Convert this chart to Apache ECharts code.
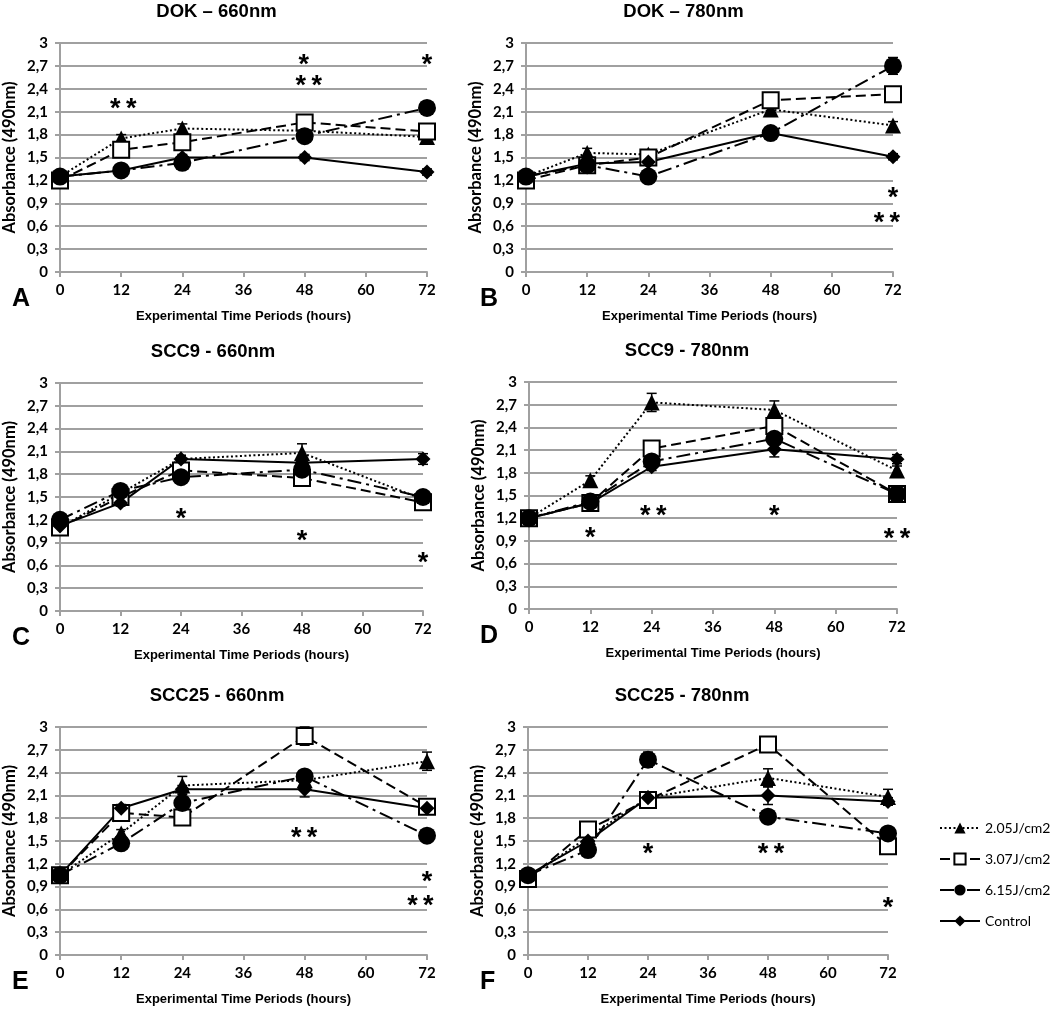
<!DOCTYPE html>
<html>
<head>
<meta charset="utf-8">
<script src="https://cdn.jsdelivr.net/npm/echarts@6/dist/echarts.min.js"></script>
<style>
  html, body { margin: 0; padding: 0; background: #fff; }
  #chart { width: 1050px; height: 1009px; }
</style>
</head>
<body>
<div id="chart"></div>
<script>
// time points (hours) and dose groups
const hours = [0, 12, 24, 48, 72];
const doses = ['2.05J/cm2', '3.07J/cm2', '6.15J/cm2', 'Control'];
const yTickLabels = ['0', '0,3', '0,6', '0,9', '1,2', '1,5', '1,8', '2,1', '2,4', '2,7', '3'];
const panelTitles = ['DOK – 660nm', 'DOK – 780nm', 'SCC9 - 660nm', 'SCC9 - 780nm', 'SCC25 - 660nm', 'SCC25 - 780nm'];
const panelLetters = ['A', 'B', 'C', 'D', 'E', 'F'];

// absorbance, one row per dose (2.05, 3.07, 6.15, control)
const dok660 = [
  [1.25, 1.75, 1.88, 1.85, 1.77],
  [1.20, 1.60, 1.70, 1.96, 1.84],
  [1.25, 1.33, 1.43, 1.78, 2.15],
  [1.25, 1.33, 1.50, 1.50, 1.31]
];
const dok780 = [
  [1.25, 1.56, 1.54, 2.13, 1.92],
  [1.20, 1.40, 1.50, 2.25, 2.33],
  [1.25, 1.40, 1.25, 1.82, 2.70],
  [1.25, 1.42, 1.44, 1.82, 1.51]
];
const scc9_660 = [
  [1.10, 1.55, 2.00, 2.08, 1.47],
  [1.10, 1.50, 1.85, 1.75, 1.43],
  [1.20, 1.58, 1.76, 1.86, 1.50],
  [1.12, 1.42, 2.00, 1.95, 2.00]
];
const scc9_780 = [
  [1.20, 1.70, 2.73, 2.63, 1.83],
  [1.20, 1.40, 2.12, 2.42, 1.52],
  [1.20, 1.42, 1.95, 2.25, 1.52],
  [1.20, 1.40, 1.88, 2.11, 1.98]
];
const scc25_660 = [
  [1.05, 1.60, 2.23, 2.30, 2.55],
  [1.05, 1.87, 1.81, 2.88, 1.95],
  [1.05, 1.47, 2.00, 2.35, 1.57],
  [1.05, 1.93, 2.18, 2.18, 1.93]
];
const scc25_780 = [
  [1.02, 1.55, 2.07, 2.33, 2.08],
  [1.00, 1.65, 2.04, 2.77, 1.43],
  [1.05, 1.38, 2.57, 1.82, 1.60],
  [1.05, 1.50, 2.07, 2.10, 2.02]
];

// error bar half-lengths, same layout
const errDok660 = [
  [0.05, 0.05, 0.06, 0.05, 0.05],
  [0.04, 0.05, 0.05, 0.05, 0.05],
  [0.04, 0.04, 0.05, 0.05, 0.05],
  [0.04, 0.04, 0.04, 0.04, 0.04]
];
const errDok780 = [
  [0.04, 0.06, 0.05, 0.05, 0.05],
  [0.04, 0.04, 0.05, 0.05, 0.05],
  [0.04, 0.04, 0.05, 0.05, 0.11],
  [0.04, 0.04, 0.04, 0.05, 0.04]
];
const errScc9_660 = [
  [0.04, 0.05, 0.05, 0.12, 0.05],
  [0.04, 0.05, 0.05, 0.05, 0.05],
  [0.04, 0.05, 0.05, 0.05, 0.05],
  [0.04, 0.04, 0.04, 0.05, 0.07]
];
const errScc9_780 = [
  [0.04, 0.06, 0.12, 0.12, 0.06],
  [0.04, 0.05, 0.05, 0.05, 0.05],
  [0.04, 0.05, 0.05, 0.06, 0.05],
  [0.04, 0.04, 0.05, 0.10, 0.06]
];
const errScc25_660 = [
  [0.04, 0.05, 0.12, 0.05, 0.12],
  [0.04, 0.05, 0.05, 0.12, 0.05],
  [0.04, 0.05, 0.05, 0.06, 0.05],
  [0.04, 0.05, 0.05, 0.10, 0.05]
];
const errScc25_780 = [
  [0.04, 0.05, 0.05, 0.12, 0.10],
  [0.04, 0.05, 0.05, 0.10, 0.05],
  [0.04, 0.05, 0.10, 0.05, 0.05],
  [0.04, 0.05, 0.05, 0.12, 0.05]
];

// significance marks: [hour, absorbance, text]
const starsA = [[12.4, 2.22, '* *'], [47.8, 2.80, '*'], [48.8, 2.52, '* *'], [72, 2.80, '*']];
const starsB = [[72, 1.06, '*'], [70.8, 0.73, '* *']];
const starsC = [[24, 1.30, '*'], [48, 1.01, '*'], [72, 0.71, '*']];
const starsD = [[12, 1.02, '*'], [24.3, 1.31, '* *'], [48, 1.31, '*'], [72, 1.01, '* *']];
const starsE = [[47.9, 1.63, '* *'], [72, 1.04, '*'], [70.7, 0.73, '* *']];
const starsF = [[24, 1.41, '*'], [48.6, 1.41, '* *'], [72, 0.70, '*']];

const panels = [dok660, dok780, scc9_660, scc9_780, scc25_660, scc25_780];
const panelErrs = [errDok660, errDok780, errScc9_660, errScc9_780, errScc25_660, errScc25_780];
const panelStars = [starsA, starsB, starsC, starsD, starsE, starsF];

// plot rectangles [left, top, width, height]
const rects = [
  [58, 43, 369, 229],
  [526, 43, 367, 229],
  [55, 383, 368, 228],
  [529, 382, 368, 227],
  [59, 727, 368, 228],
  [528, 727, 360, 228]
];

const doseStyles = [
  { symbol: 'triangle', symbolSize: 16, dash: [2, 2.5], fill: '#000' },
  { symbol: 'rect', symbolSize: 16, dash: [10, 5], fill: '#fff' },
  { symbol: 'circle', symbolSize: 18, dash: [14, 5, 3, 5], fill: '#000' },
  { symbol: 'diamond', symbolSize: 15, dash: 'solid', fill: '#000' }
];

const boldLabel = { fontFamily: 'Lato', fontWeight: 'bold', fontSize: 15, color: '#000' };
const gray = '#a0a0a0';

const grids = [], xAxes = [], yAxes = [], series = [], titles = [];

rects.forEach((r, p) => {
  grids.push({ left: r[0], top: r[1], width: r[2], height: r[3] });
  xAxes.push({
    type: 'value', gridIndex: p, min: 0, max: 72, interval: 12,
    name: 'Experimental Time Periods (hours)', nameLocation: 'middle', nameGap: 38,
    nameTextStyle: { fontFamily: 'Liberation Sans', fontWeight: 'bold', fontSize: 13, color: '#000' },
    axisLine: { lineStyle: { color: gray, width: 2 } },
    axisTick: { show: true, length: 5, lineStyle: { color: gray, width: 2 } },
    axisLabel: Object.assign({ margin: 11 }, boldLabel),
    splitLine: { show: false }
  });
  yAxes.push({
    type: 'value', gridIndex: p, min: 0, max: 3, interval: 0.3,
    name: 'Absorbance (490nm)', nameLocation: 'middle', nameGap: 42,
    nameTextStyle: { fontFamily: 'Lato', fontWeight: 'bold', fontSize: 16.5, color: '#000' },
    axisLine: { show: true, lineStyle: { color: gray, width: 2 } },
    axisTick: { show: true, length: 5, lineStyle: { color: gray, width: 2 } },
    axisLabel: Object.assign({
      margin: 12,
      formatter: v => yTickLabels[Math.round(v / 0.3)]
    }, boldLabel),
    splitLine: { show: true, lineStyle: { color: gray, width: 2 } }
  });

  titles.push({
    text: panelTitles[p], left: r[0] + r[2] / 2 - 26, top: r[1] - 41, textAlign: 'center', padding: 0,
    textStyle: { fontFamily: 'Liberation Sans', fontWeight: 'bold', fontSize: 18.5, color: '#000' }
  });
  titles.push({
    text: panelLetters[p], left: p % 2 === 0 ? 12 : 480, top: r[1] + r[3] + 15, padding: 0,
    textStyle: { fontFamily: 'Liberation Sans', fontWeight: 'bold', fontSize: 25, color: '#000' }
  });

  const vals = panels[p];
  const errs = panelErrs[p];
  vals.forEach((row, d) => {
    const st = doseStyles[d];
    series.push({
      name: 'err', type: 'custom', xAxisIndex: p, yAxisIndex: p, z: 1,
      encode: { x: 0, y: 1 },
      data: row.map((v, i) => [hours[i], v, errs[d][i]]),
      renderItem: (params, api) => {
        const x = api.value(0), y = api.value(1), e = api.value(2);
        const t = api.coord([x, y + e]), b = api.coord([x, y - e]);
        const s = { stroke: '#000', lineWidth: 1.5 };
        return {
          type: 'group', children: [
            { type: 'line', shape: { x1: t[0], y1: t[1], x2: b[0], y2: b[1] }, style: s },
            { type: 'line', shape: { x1: t[0] - 5, y1: t[1], x2: t[0] + 5, y2: t[1] }, style: s },
            { type: 'line', shape: { x1: b[0] - 5, y1: b[1], x2: b[0] + 5, y2: b[1] }, style: s }
          ]
        };
      }
    });
    series.push({
      name: doses[d], type: 'line', xAxisIndex: p, yAxisIndex: p, z: 3,
      data: row.map((v, i) => [hours[i], v]),
      symbol: st.symbol, symbolSize: st.symbolSize, showAllSymbol: true,
      lineStyle: { color: '#000', width: 2, type: st.dash },
      itemStyle: { color: st.fill, borderColor: '#000', borderWidth: st.fill === '#fff' ? 2 : 0 },
      emphasis: { disabled: true }
    });
  });

  series.push({
    name: 'stars', type: 'scatter', xAxisIndex: p, yAxisIndex: p, z: 5,
    data: panelStars[p].map(s => ({ value: [s[0], s[1]], label: { formatter: s[2].replace(' ', '\u2009') } })),
    symbol: 'circle', symbolSize: 1, itemStyle: { color: 'rgba(0,0,0,0)' },
    label: {
      show: true, position: 'inside', offset: [0, 7],
      fontFamily: 'Liberation Sans', fontWeight: 'bold', fontSize: 27, color: '#000',
      textBorderWidth: 0, opacity: 1
    },
    silent: true
  });
});

const chart = echarts.init(document.getElementById('chart'));
chart.setOption({
  backgroundColor: '#fff',
  animation: false,
  title: titles,
  grid: grids,
  xAxis: xAxes,
  yAxis: yAxes,
  legend: {
    data: doses, orient: 'vertical', left: 934, top: 816,
    itemWidth: 40, itemHeight: 14, itemGap: 17,
    textStyle: { fontFamily: 'Lato', fontSize: 14, color: '#000' }
  },
  series: series
});
window.addEventListener('resize', () => chart.resize());
</script>
</body>
</html>
